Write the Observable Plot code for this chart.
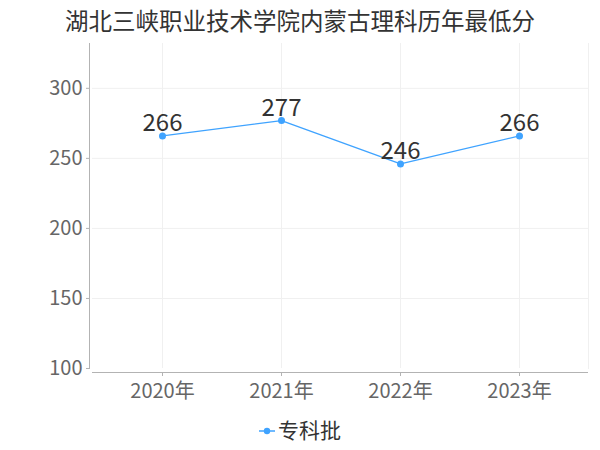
<!DOCTYPE html>
<html>
<head>
<meta charset="utf-8">
<script src="https://cdn.jsdelivr.net/npm/d3@7"></script>
<script src="https://cdn.jsdelivr.net/npm/@observablehq/plot@0.6"></script>
<style>
  body { margin: 0; background: #fff; }
  #wrap { position: relative; width: 600px; height: 450px; overflow: hidden; font-family: "Noto Sans CJK SC", sans-serif; }
  #title { position: absolute; top: 5px; left: 0; width: 600px; text-align: center; font-size: 23.5px; color: #333; font-family: "Noto Sans CJK SC", sans-serif; line-height: 30px; }
  #chart { position: absolute; top: 0; left: 0; }
  #legend { position: absolute; top: 414px; left: 0; width: 600px; text-align: center; font-size: 21px; color: #333; font-family: "Noto Sans CJK SC", sans-serif; line-height: 30px; }
  #legend svg { vertical-align: middle; margin-right: 3px; position: relative; top: -1px; }
</style>
</head>
<body>
<div id="wrap">
  <div id="title">湖北三峡职业技术学院内蒙古理科历年最低分</div>
  <div id="chart"></div>
  <div id="legend"><svg width="16" height="10"><line x1="0" y1="5" x2="16" y2="5" stroke="#3fa3ff" stroke-width="1.5"/><circle cx="8" cy="5" r="3.2" fill="#3fa3ff"/></svg>专科批</div>
</div>
<script>
const years = ["2020年", "2021年", "2022年", "2023年"];
const scores = [266, 277, 246, 266];
const yTicks = [100, 150, 200, 250, 300];
const seriesName = "专科批";

const data = years.map((y, i) => ({year: y, score: scores[i], series: seriesName}));
const color = "#3fa3ff";

const chart = Plot.plot({
  width: 600,
  height: 410,
  marginLeft: 92,
  marginRight: 12,
  marginTop: 43,
  marginBottom: 42,
  style: {fontFamily: '"Noto Sans CJK SC", sans-serif', background: "transparent"},
  x: {type: "point", domain: years, padding: 0.567},
  y: {domain: [100, 332]},
  marks: [
    Plot.gridY(yTicks.slice(1), {stroke: "#f0f0f0", strokeOpacity: 1}),
    Plot.gridX(years, {stroke: "#f0f0f0", strokeOpacity: 1}),
    Plot.frame({anchor: "right", stroke: "#f0f0f0"}),
    Plot.frame({anchor: "left", dx: -3, stroke: "#b3b3b3"}),
    Plot.ruleY([100], {dy: 4, stroke: "#b3b3b3"}),
    Plot.axisY({ticks: yTicks, tickSize: 3, dx: -3, tickPadding: 4, fontSize: 20, color: "#666", stroke: "#b3b3b3", label: null}),
    Plot.axisX({tickSize: 4, dy: 4, tickPadding: 7, fontSize: 20, color: "#666", stroke: "#b3b3b3", label: null}),
    Plot.line(data, {x: "year", y: "score", stroke: color, strokeWidth: 1.3}),
    Plot.dot(data, {x: "year", y: "score", fill: color, r: 3.5}),
    Plot.text(data, {x: "year", y: "score", text: d => String(d.score), lineAnchor: "bottom", dy: -5, fontSize: 24, fill: "#333"})
  ]
});
document.getElementById("chart").appendChild(chart);
</script>
</body>
</html>
